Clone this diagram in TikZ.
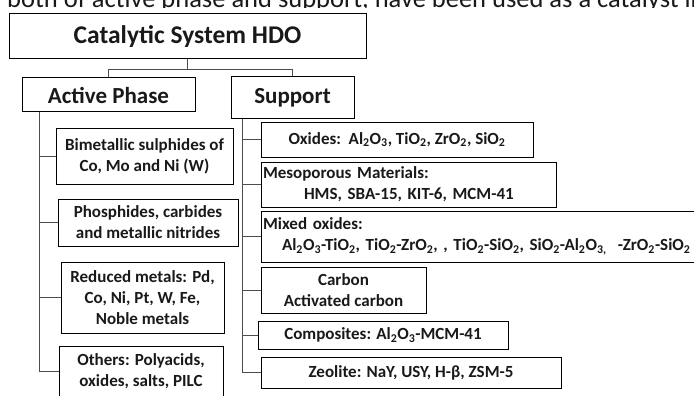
\documentclass[tikz,border=0pt]{standalone}
\usepackage{fontspec}
\setmainfont{Carlito}
\usetikzlibrary{calc}
\newcommand{\sbs}[1]{\textsubscript{#1}}
\begin{document}
\begin{tikzpicture}[x=1pt,y=-1pt,
  box/.style={draw=black, line width=1pt, inner sep=0pt, align=center, text=black!90,
    font=\bfseries\fontsize{17}{21}\selectfont},
  head/.style={box, font=\bfseries\fontsize{23}{27}\selectfont},
  link/.style={draw=black!70, line width=1pt}]
\useasboundingbox (0,0) rectangle (694,396);
\clip (0,0) rectangle (694,396);

% cropped caption line at the top (only its lower half shows)
\begin{scope}
\clip (0,0) rectangle (694,7.5);
\node[anchor=base west, inner sep=0pt, font=\fontsize{26.5}{30}\selectfont, text=black!90] (cap) at (7,7.2)
  {both of active phase and support, have been used as a catalyst in};
\end{scope}

% main boxes
\node[box, font=\bfseries\fontsize{25.5}{30}\selectfont, minimum width=357pt, minimum height=45pt] (title) at (187.5,36.5) {Catalytic System HDO};
\node[head, minimum width=173pt, minimum height=34pt] (active) at (108.5,95) {Active Phase};
\node[head, minimum width=123pt, minimum height=41pt] (support) at (292.5,97.5) {Support};

% active phase items
\node[box, minimum width=177pt, minimum height=56pt] (bimet) at (144.5,156) {Bimetallic sulphides of\\Co, Mo and Ni (W)};
\node[box, minimum width=180pt, minimum height=47pt] (phos) at (148,222.5) {Phosphides, carbides\\and metallic nitrides};
\node[box, minimum width=163pt, minimum height=71pt] (red) at (142.5,297.5) {Reduced metals: Pd,\\Co, Ni, Pt, W, Fe,\\Noble metals};
\node[box, minimum width=164pt, minimum height=51pt] (oth) at (141,371.5) {Others: Polyacids,\\oxides, salts, PILC};

% support items
\node[box, minimum width=272pt, minimum height=35pt] (oxi) at (397,139.5) {Oxides:\ \ Al\sbs{2}O\sbs{3}, TiO\sbs{2}, ZrO\sbs{2}, SiO\sbs{2}};
\node[box, minimum width=295pt, minimum height=45pt, text width=291pt, align=left, inner xsep=2pt] (meso) at (408.5,184.5)
  {Mesoporous Materials:\\\hspace*{41pt}HMS, SBA-15, KIT-6, MCM-41};
\node[box, minimum width=459pt, minimum height=51pt, text width=455pt, align=left, inner xsep=2pt] (mix) at (490.5,236.5)
  {Mixed oxides:\\\hspace*{19pt}Al\sbs{2}O\sbs{3}-TiO\sbs{2}, TiO\sbs{2}-ZrO\sbs{2}, , TiO\sbs{2}-SiO\sbs{2}, SiO\sbs{2}-Al\sbs{2}O\sbs{3,}\ \ -ZrO\sbs{2}-SiO\sbs{2}};
\node[box, minimum width=165pt, minimum height=46pt] (carb) at (343.5,290) {Carbon\\Activated carbon};
\node[box, minimum width=250pt, minimum height=28pt] (comp) at (383,335) {Composites: Al\sbs{2}O\sbs{3}-MCM-41};
\node[box, minimum width=300pt, minimum height=31pt] (zeo) at (411,372.5) {Zeolite: NaY, USY, H-β, ZSM-5};

% connectors from the title
\coordinate (fork) at ($(title.south)+(0,10)$);
\draw[link] (title.south) -- (fork);
\draw[link] (fork) -| (active.north);
\draw[link] (fork) -| (support.north);

% active phase trunk
\coordinate (atrunk) at ($(active.south west)+(18,0)$);
\draw[link] (atrunk) |- (bimet.west);
\draw[link] (atrunk) |- (phos.west);
\draw[link] (atrunk) |- (red.west);
\draw[link] (atrunk) |- (oth.west);

% support trunk
\coordinate (strunk) at ($(support.south west)+(12,0)$);
\draw[link] (strunk) |- (oxi.west);
\draw[link] (strunk) |- (meso.west);
\draw[link] (strunk) |- (mix.west);
\draw[link] (strunk) |- (carb.west);
\draw[link] (strunk) |- (comp.west);
\draw[link] (strunk) |- (zeo.west);
\end{tikzpicture}
\end{document}
